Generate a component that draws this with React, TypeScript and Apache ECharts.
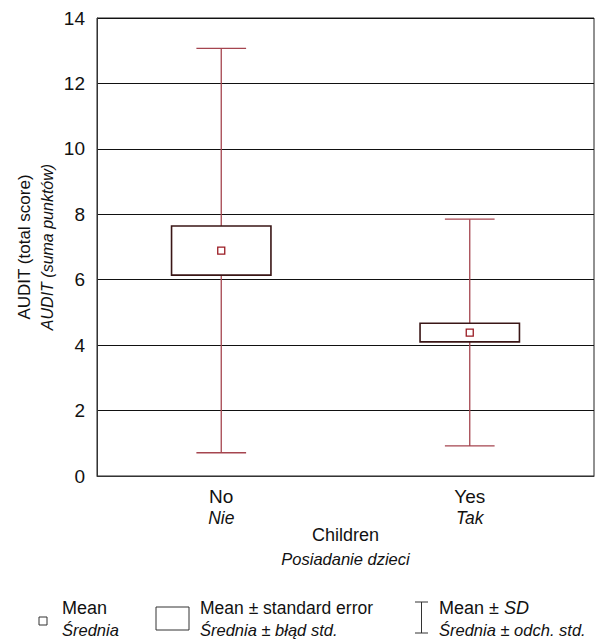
import React, { useEffect, useRef } from "react";
import * as echarts from "echarts";

const categories = ["No", "Yes"];
const categoriesPl = ["Nie", "Tak"];
const means = [6.89, 4.385];
const stdErrors = [0.75, 0.285];
const stdDevs = [6.18, 3.465];
const yTicks = { min: 0, max: 14, interval: 2 };

const FONT = "'Liberation Sans', Arial, sans-serif";
const WHISKER = "#a5454f";
const BOX = "#3a1616";
const MEANC = "#9a1a22";
const TXT = "#111";

const reg = (size: number, lh = 22) => ({ fontFamily: FONT, fontSize: size, color: TXT, lineHeight: lh });
const ital = (size: number, lh = 22) => ({ fontFamily: FONT, fontSize: size, color: TXT, lineHeight: lh, fontStyle: "italic" });
const gReg = (size: number) => ({ fontFamily: FONT, fontSize: size, fill: TXT, lineHeight: 22 });
const gIt = (size: number) => ({ fontFamily: FONT, fontSize: size, fill: TXT, lineHeight: 22, fontStyle: "italic" });

export default function App() {
  const ref = useRef<HTMLDivElement>(null);
  useEffect(() => {
    document.body.style.margin = "0";
    const chart = echarts.init(ref.current!, null, { renderer: "svg" });
    const data = categories.map((c, i) => [i, means[i], stdErrors[i], stdDevs[i]]);
    const option: any = {
      animation: false,
      backgroundColor: "#fff",
      textStyle: { fontFamily: FONT },
      grid: { left: 97, top: 18, right: 1, bottom: 166, show: true, borderColor: "#222", borderWidth: 1 },
      xAxis: {
        type: "category",
        data: categories,
        boundaryGap: true,
        axisLine: { lineStyle: { color: "#333", width: 1 } },
        axisTick: { show: false },
        splitLine: { show: false },
        axisLabel: {
          margin: 9,
          formatter: (v: string, i: number) => `{a|${v}}\n{b|${categoriesPl[i]}}`,
          rich: { a: reg(19), b: ital(17.5) },
        },
        name: "{a|Children}\n{b|Posiadanie dzieci}",
        nameLocation: "middle",
        nameGap: 47,
        nameMoveOverlap: false,
        nameTextStyle: { rich: { a: reg(18, 24), b: ital(16.5, 24) } },
      },
      yAxis: {
        type: "value",
        min: yTicks.min,
        max: yTicks.max,
        interval: yTicks.interval,
        axisLine: { show: true, lineStyle: { color: "#333", width: 1 } },
        axisTick: { show: false },
        splitLine: { show: true, lineStyle: { color: "#111", width: 1 } },
        axisLabel: { margin: 12, fontFamily: FONT, fontSize: 19, color: TXT },
        name: "{a|AUDIT (total score)}\n{b|AUDIT (suma punktów)}",
        nameLocation: "middle",
        nameGap: 38,
        nameMoveOverlap: false,
        nameTextStyle: { rich: { a: reg(17, 23), b: ital(16, 23) } },
      },
      series: [
        {
          type: "custom",
          data,
          renderItem: (params: any, api: any) => {
            const x = api.value(0);
            const m = api.value(1);
            const se = api.value(2);
            const sd = api.value(3);
            const c = api.coord([x, m]);
            const cx = c[0];
            const cy = c[1];
            const yTop = api.coord([x, m + sd])[1];
            const yBot = api.coord([x, m - sd])[1];
            const bTop = api.coord([x, m + se])[1];
            const bBot = api.coord([x, m - se])[1];
            const band = api.size([1, 0])[0];
            const boxW = band * 0.4;
            const capW = band * 0.2;
            const ls = { stroke: WHISKER, lineWidth: 1.3 };
            return {
              type: "group",
              children: [
                { type: "line", shape: { x1: cx, y1: yTop, x2: cx, y2: yBot }, style: ls },
                { type: "line", shape: { x1: cx - capW / 2, y1: yTop, x2: cx + capW / 2, y2: yTop }, style: ls },
                { type: "line", shape: { x1: cx - capW / 2, y1: yBot, x2: cx + capW / 2, y2: yBot }, style: ls },
                {
                  type: "rect",
                  shape: { x: cx - boxW / 2, y: bTop, width: boxW, height: bBot - bTop },
                  style: { fill: "#fff", stroke: BOX, lineWidth: 1.6 },
                },
                {
                  type: "rect",
                  shape: { x: cx - 3.5, y: cy - 3.5, width: 7, height: 7 },
                  style: { fill: "#fff", stroke: MEANC, lineWidth: 1.3 },
                },
              ],
            };
          },
        },
      ],
      graphic: [
        { type: "rect", shape: { x: 39, y: 617, width: 8, height: 8 }, style: { fill: "#fff", stroke: "#333", lineWidth: 1 } },
        {
          type: "text",
          x: 62,
          y: 597,
          style: { text: "{a|Mean}\n{b|Średnia}", rich: { a: gReg(18), b: gIt(16.5) } },
        },
        { type: "rect", shape: { x: 156, y: 607, width: 33, height: 23 }, style: { fill: "#fff", stroke: "#333", lineWidth: 1 } },
        {
          type: "text",
          x: 200,
          y: 597,
          style: {
            text: "{a|Mean ± standard error}\n{b|Średnia ± błąd std.}",
            rich: { a: gReg(17.5), b: gIt(16.5) },
          },
        },
        { type: "line", shape: { x1: 421.5, y1: 602, x2: 421.5, y2: 633 }, style: { stroke: "#333", lineWidth: 1 } },
        { type: "line", shape: { x1: 415, y1: 602, x2: 428, y2: 602 }, style: { stroke: "#333", lineWidth: 1 } },
        { type: "line", shape: { x1: 415, y1: 633, x2: 428, y2: 633 }, style: { stroke: "#333", lineWidth: 1 } },
        {
          type: "text",
          x: 439,
          y: 597,
          style: {
            text: "{a|Mean ± }{c|SD}\n{b|Średnia ± odch. std.}",
            rich: { a: gReg(18), c: gIt(18), b: gIt(16.5) },
          },
        },
      ],
    };
    chart.setOption(option);
    return () => chart.dispose();
  }, []);
  return <div ref={ref} style={{ width: 595, height: 642 }} />;
}
